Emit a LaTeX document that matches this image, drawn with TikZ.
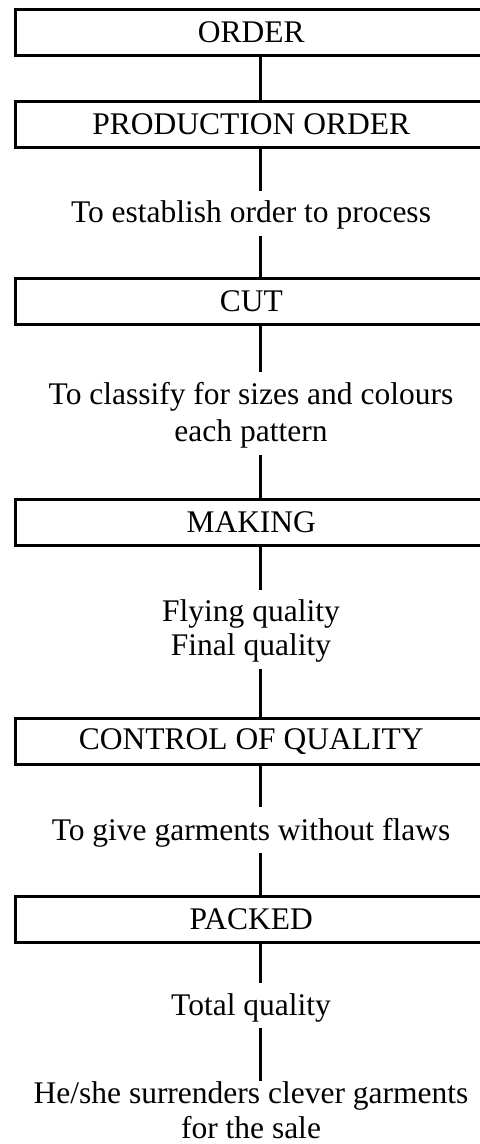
\documentclass[tikz,border=0pt]{standalone}
\usepackage{fontspec}
\setmainfont{Liberation Serif}
\usepackage{tikz}

\begin{document}
\begin{tikzpicture}[x=0.5pt,y=-0.5pt,
		font=\fontsize{15.75}{18}\selectfont,
		box/.style={rectangle,draw,line width=1.5pt,minimum width=235.5pt,minimum height=23pt,inner sep=0pt},
		lbl/.style={align=center,inner sep=0pt},
		link/.style={draw,line width=1.5pt},
		tolbl/.style={link,shorten >=5pt},
		fromlbl/.style={link,shorten <=3pt}]
			\path[use as bounding box,clip] (0,0) rectangle (480,1144);
			\coordinate (col) at (260,0);
			
			\node[box] (order) at (251.25,32.2) {ORDER};
			\node[box] (prod) at (251.25,124.7) {PRODUCTION ORDER};
			\node[lbl,anchor=base] (est) at (251,223) {To establish order to process};
			\node[box] (cut) at (251.25,301.5) {CUT};
			\node[lbl,font=\fontsize{15.75}{18.5}\selectfont] (cls) at (251,415.2) {To classify for sizes and colours\\each pattern};
			\node[box] (make) at (251.25,522.2) {MAKING};
			\node[lbl,font=\fontsize{15.75}{17}\selectfont] (fly) at (251,631.4) {Flying quality\\Final quality};
			\node[box] (ctrl) at (251.25,741.2) {CONTROL OF QUALITY};
			\node[lbl,anchor=base] (give) at (251,840) {To give garments without flaws};
			\node[box] (pack) at (251.25,919.4) {PACKED};
			\node[lbl,anchor=base] (total) at (251,1015) {Total quality};
			\node[lbl,font=\fontsize{15.75}{17.85}\selectfont] (sale) at (251,1110.3) {He/she surrenders clever garments\\for the sale};
			
			\path[link] (order.south -| col) -- (prod.north -| col);
			\path[tolbl] (prod.south -| col) -- (est.north -| col);
			\path[fromlbl] (est.south -| col) -- (cut.north -| col);
			\path[tolbl] (cut.south -| col) -- (cls.north -| col);
			\path[fromlbl] (cls.south -| col) -- (make.north -| col);
			\path[tolbl] (make.south -| col) -- (fly.north -| col);
			\path[fromlbl] (fly.south -| col) -- (ctrl.north -| col);
			\path[tolbl] (ctrl.south -| col) -- (give.north -| col);
			\path[fromlbl] (give.south -| col) -- (pack.north -| col);
			\path[tolbl] (pack.south -| col) -- (total.north -| col);
			\path[fromlbl] (total.south -| col) -- (sale.north -| col);
		\end{tikzpicture}
\end{document}
